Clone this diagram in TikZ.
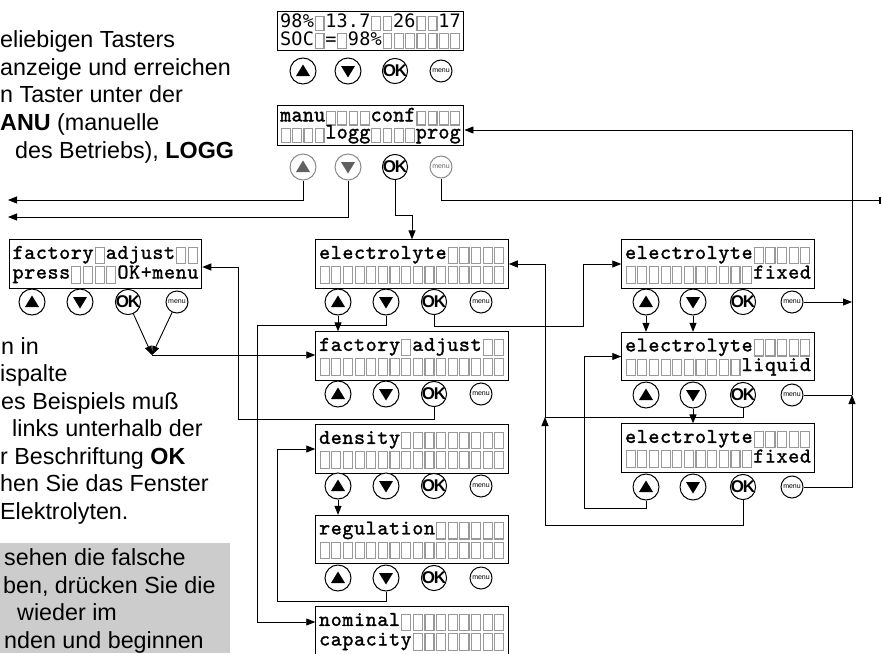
\documentclass[tikz,border=0pt]{standalone}
\usepackage{fontspec}
\setmainfont{Liberation Sans}
\newfontfamily\lcdtt[FakeBold=1.4]{lmmono10-regular.otf}
\newfontfamily\lcdsans{DejaVu Sans Mono}
\usepackage{graphicx}
\usetikzlibrary{arrows.meta,calc}
\definecolor{lcdgray}{HTML}{999999}
\definecolor{notegray}{HTML}{CCCCCC}
\definecolor{btngray}{HTML}{8A8A8A}

\newlength\lcdcw \newlength\lcdrh \newlength\lcdd
\def\lcdvs{1}
\newcommand\lcdempty{\makebox[\lcdcw]{\raisebox{-\lcdd}{\textcolor{lcdgray}{\setlength\fboxsep{0pt}\setlength\fboxrule{1.1pt}\fbox{\rule{0pt}{\dimexpr\lcdrh-3.2pt\relax}\hspace{\dimexpr\lcdcw-3.7pt\relax}}}}}}
\newcommand\lcdcell[1]{\ifx#1_\lcdempty\else\makebox[\lcdcw]{\smash{\scalebox{1}[\lcdvs]{#1}}}\fi}
\def\lcdrowi#1{\ifx#1\relax\else\lcdcell{#1}\expandafter\lcdrowi\fi}
\newcommand\lcdrow[1]{\hbox{\rule[-\lcdd]{0pt}{\lcdrh}\lcdrowi#1\relax}}
\newcommand\lcdrows[2]{\vbox{\offinterlineskip\lcdrow{#1}\lcdrow{#2}}}
\newcommand\lcdAfont[1]{\setlength\lcdcw{#1}\setlength\lcdrh{16.5pt}\setlength\lcdd{2.5pt}\def\lcdvs{1.0}\fontsize{18.5}{18.5}\selectfont\lcdsans}
\newcommand\lcdMfont[1]{\setlength\lcdcw{#1}\setlength\lcdrh{16pt}\setlength\lcdd{3pt}\def\lcdvs{1.05}\fontsize{21}{21}\selectfont\lcdtt}
\newcommand\lcdBfont[1]{\setlength\lcdcw{#1}\setlength\lcdrh{18.5pt}\setlength\lcdd{4pt}\def\lcdvs{1.0}\fontsize{21}{21}\selectfont\lcdtt}

\tikzset{
  ln/.style={line width=0.9pt},
  arr/.style={ln, -{Triangle[length=9pt,width=7pt]}},
  lcdA/.style={draw, line width=1.1pt, inner xsep=3pt, inner ysep=2pt, font={\lcdAfont{#1}}},
  lcdM/.style={draw, line width=1.1pt, inner xsep=3pt, inner ysep=2.5pt, font={\lcdMfont{#1}}},
  lcdB/.style={draw, line width=1.1pt, inner xsep=3pt, inner ysep=4.5pt, font={\lcdBfont{#1}}},
  txt/.style={anchor=base west, inner sep=0pt, font=\fontsize{23.3}{27.7}\selectfont},
  btn/.style={circle, draw, line width=1pt, inner sep=0pt, fill=white},
  upb/.style={btn, minimum size=26pt, path picture={\fill[#1] ([yshift=6.5pt]path picture bounding box.center) -- ++(-7pt,-11.5pt) -- ++(14pt,0pt) -- cycle;}},
  upb/.default=black,
  dnb/.style={btn, minimum size=26pt, path picture={\fill[#1] ([yshift=-6.5pt]path picture bounding box.center) -- ++(-7pt,11.5pt) -- ++(14pt,0pt) -- cycle;}},
  dnb/.default=black,
  okb/.style={btn, minimum size=24pt, font=\fontsize{17}{17}\selectfont\bfseries},
  mnb/.style={btn, minimum size=22pt, font=\fontsize{7}{7}\selectfont},
}
\newcommand\okt{\kern-1pt O\kern-1.4pt K\kern-1pt}
\newcommand\btnrow[6]{%
  \node[upb] (#1U) at (#3,#2) {};
  \node[dnb] (#1D) at (#4,#2) {};
  \node[okb] (#1O) at (#5,#2) {\okt};
  \node[mnb] (#1M) at (#6,#2) {menu};
}

\begin{document}
\begin{tikzpicture}[x=1pt,y=-1pt]
\useasboundingbox (0,0) rectangle (882,653);

% ---- text blocks
\node[txt] (a1) at (0,47) {eliebigen Tasters};
\node[txt] (a2) at (0,75) {anzeige und erreichen};
\node[txt] (a3) at (0,102.5) {n Taster unter der};
\node[txt] (a4) at (0,130) {\textbf{ANU} (manuelle};
\node[txt] (a5) at (15,158) {des Betriebs), \textbf{LOGG}};

\node[txt] (b1) at (1,354) {n in};
\node[txt] (b2) at (0,381.5) {ispalte};
\node[txt] (b3) at (1,409) {es Beispiels muß};
\node[txt] (b4) at (12,436.5) {links unterhalb der};
\node[txt] (b5) at (0,464) {r Beschriftung \textbf{OK}};
\node[txt] (b6) at (0,491.5) {hen Sie das Fenster};
\node[txt] (b7) at (0,519) {Elektrolyten.};

\fill[notegray] (0,543) rectangle (230,653);
\node[txt] (c1) at (4,565) {sehen die falsche};
\node[txt] (c2) at (3,593) {ben, drücken Sie die};
\node[txt] (c3) at (17,620) {wieder im};
\node[txt] (c4) at (4,648) {nden und beginnen};

% ---- LCD displays
\node[lcdA=11.3pt] (top) at (370.5,31) {\lcdrows{98\%_13.7__26__17}{SOC_=_98\%_______}};
\node[lcdM=11.3pt] (manu) at (370.5,125.5) {\lcdrows{manu____conf____}{____logg____prog}};
\node[lcdB=11.65pt] (lfac) at (105.5,264) {\lcdrows{factory_adjust__}{press____OK+menu}};
\node[lcdB=11.65pt] (elec) at (412,264) {\lcdrows{electrolyte_____}{________________}};
\node[lcdB=11.65pt] (fac) at (412,356) {\lcdrows{factory_adjust__}{________________}};
\node[lcdB=11.65pt] (dens) at (412,449) {\lcdrows{density_________}{________________}};
\node[lcdB=11.65pt] (reg) at (412,539.5) {\lcdrows{regulation______}{________________}};
\node[lcdB=11.65pt] (nom) at (412,631) {\lcdrows{nominal_________}{capacity________}};
\node[lcdB=11.65pt] (fixT) at (718,264) {\lcdrows{electrolyte_____}{___________fixed}};
\node[lcdB=11.65pt] (liq) at (718,356.5) {\lcdrows{electrolyte_____}{__________liquid}};
\node[lcdB=11.65pt] (fixB) at (718,448) {\lcdrows{electrolyte_____}{___________fixed}};

% ---- buttons
\btnrow{t}{71}{303}{348}{395}{441}
\node[upb=gray!75!black, draw=btngray] (mU) at (303,167) {};
\node[dnb=gray!75!black, draw=btngray] (mD) at (348,167) {};
\node[okb] (mO) at (395,167) {\okt};
\node[mnb, draw=btngray, text=gray!80!black] (mM) at (441,167) {menu};
\btnrow{lf}{302}{32}{80}{128}{177}
\btnrow{e}{302}{338}{386}{434}{481}
\btnrow{fa}{394}{338}{386}{434}{481}
\btnrow{d}{486}{338}{386}{434}{481}
\btnrow{r}{578}{338}{386}{434}{481}
\btnrow{fT}{302}{646}{693}{743}{792}
\btnrow{lq}{395}{646}{693}{743}{792}
\btnrow{fB}{487}{646}{693}{743}{792}

% ---- junctions
\coordinate (L1) at (8,200);
\coordinate (L2) at (8,217);
\coordinate (R1) at (881,200);
\coordinate (T1) at (852,130);
\coordinate (J1) at (852,395);
\coordinate (V) at (152,355);
\coordinate (P13) at (257,325);
\coordinate (P14) at (583,326);
\coordinate (P15) at (238,419);
\coordinate (P17) at (277,601);
\coordinate (J2) at (545,417);
\coordinate (P22) at (545,525);
\coordinate (P23) at (584,508);

% ---- connectors
\draw[arr] (mU.south) |- (L1);
\draw[arr] (mD.south) |- (L2);
\draw[arr] (mO.south) |- ($(elec.north)+(0,-24)$) -- (elec.north);
\draw[ln,-{Bar[width=7pt,line width=2pt]}] (mM.south) |- (R1);
\draw[arr] (J1) -- (T1) -- (T1 -| manu.east);
\draw[arr] (fTM.east) -- (fTM -| J1);
\draw[ln] (lqM.east) -- (lqM -| J1);
\draw[arr] (fBM.east) -| (J1);
\draw[arr] (lfO) -- (V);
\draw[arr] (lfM) -- (V);
\draw[arr] (V) -- (V -| fac.west);
\draw[arr] (eU) -- (eU |- fac.north);
\draw[arr] (eD.south) |- (P13) |- ($(nom.west)+(0,-9)$);
\draw[arr] (eO.south) |- (P14) |- (fixT.west);
\draw[arr] (faO.south) |- (P15) |- ($(lfac.east)+(0,3)$);
\draw[arr] (dU) -- (dU |- reg.north);
\draw[arr] (rD.south) |- (P17) |- (dens.west);
\draw[arr] (fTU) -- (fTU |- liq.north);
\draw[arr] (fTD) -- (fTD |- liq.north);
\draw[arr] (lqD) -- (lqD |- fixB.north);
\draw[ln] (lqO.south) |- (J2);
\draw[arr] (fBO.south) |- (P22) -- (J2);
\draw[arr] (J2) |- (elec.east);
\draw[arr] (fBU.south) |- (P23) |- (liq.west);
\end{tikzpicture}
\end{document}
